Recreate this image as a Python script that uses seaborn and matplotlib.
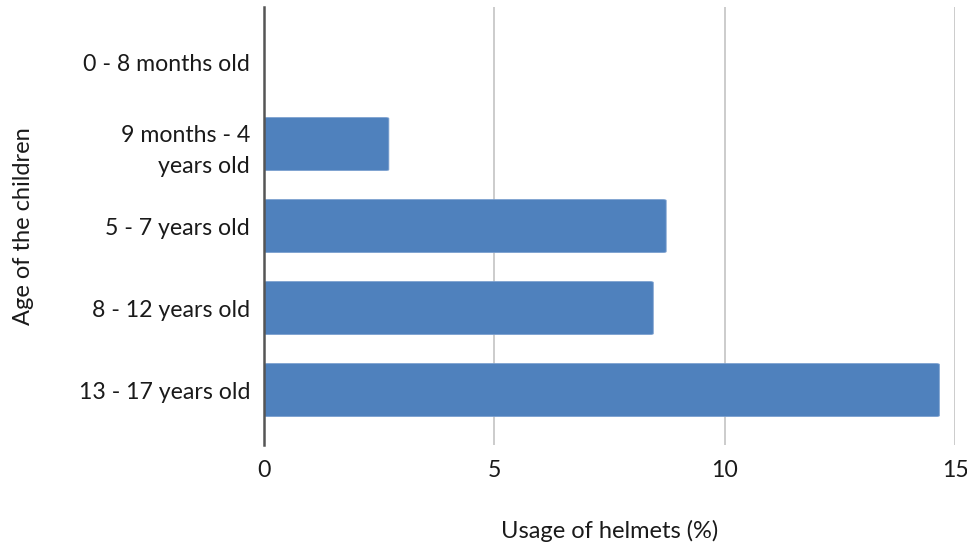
import matplotlib
matplotlib.use("Agg")
import matplotlib.pyplot as plt
from matplotlib.patches import FancyBboxPatch
import seaborn as sns
import pandas as pd

# Helmet usage by age group
age_groups = ["0 - 8 months old", "9 months - 4\nyears old", "5 - 7 years old",
              "8 - 12 years old", "13 - 17 years old"]
usage_pct = [0.0, 2.71, 8.73, 8.45, 14.66]
x_ticks = [0, 5, 10, 15]

df = pd.DataFrame({"age": age_groups, "usage": usage_pct})

sns.set_theme(style="white")
plt.rcParams["font.family"] = ["Lato", "DejaVu Sans"]

fig = plt.figure(figsize=(9.67, 5.46), dpi=100)
ax = fig.add_axes([0.273, 0.185, 0.7146, 0.802])

bar_color = "#4F81BD"
sns.barplot(data=df, x="usage", y="age", orient="h", color=bar_color,
            width=0.645, ax=ax, saturation=1)

# swap the square bars for slightly rounded ones
for p in list(ax.patches):
    x0, y0 = p.get_x(), p.get_y()
    w, h = p.get_width(), p.get_height()
    p.set_visible(False)
    if w <= 0:
        continue
    rb = FancyBboxPatch((x0, y0), w, h,
                        boxstyle="round,pad=0,rounding_size=0.08",
                        mutation_aspect=0.55 / 4.6,
                        facecolor=bar_color, edgecolor="#7a9fcf",
                        linewidth=0.6, zorder=3)
    ax.add_patch(rb)

ax.set_xlim(0, 15)
ax.set_ylim(4.67, -0.67)
ax.set_xticks(x_ticks)
ax.set_xticklabels([str(t) for t in x_ticks])

ax.grid(axis="x", color="#c8c8c8", linewidth=1.3, zorder=0)
ax.set_axisbelow(True)
for s in ["top", "right", "bottom"]:
    ax.spines[s].set_visible(False)
ax.spines["left"].set_color("#555555")
ax.spines["left"].set_linewidth(1.8)
ax.spines["left"].set_zorder(5)

ax.tick_params(axis="both", length=0, labelsize=16.7, colors="#1a1a1a")
ax.tick_params(axis="y", pad=10)
ax.tick_params(axis="x", pad=11)
for lbl in ax.get_yticklabels():
    lbl.set_horizontalalignment("right")
    lbl.set_multialignment("right")
    lbl.set_linespacing(1.6)

ax.set_xlabel("Usage of helmets (%)", fontsize=17, color="#1a1a1a", labelpad=28)
ax.set_ylabel("Age of the children", fontsize=17, color="#1a1a1a", labelpad=32)

fig.savefig("out.png", dpi=100, facecolor="white")
